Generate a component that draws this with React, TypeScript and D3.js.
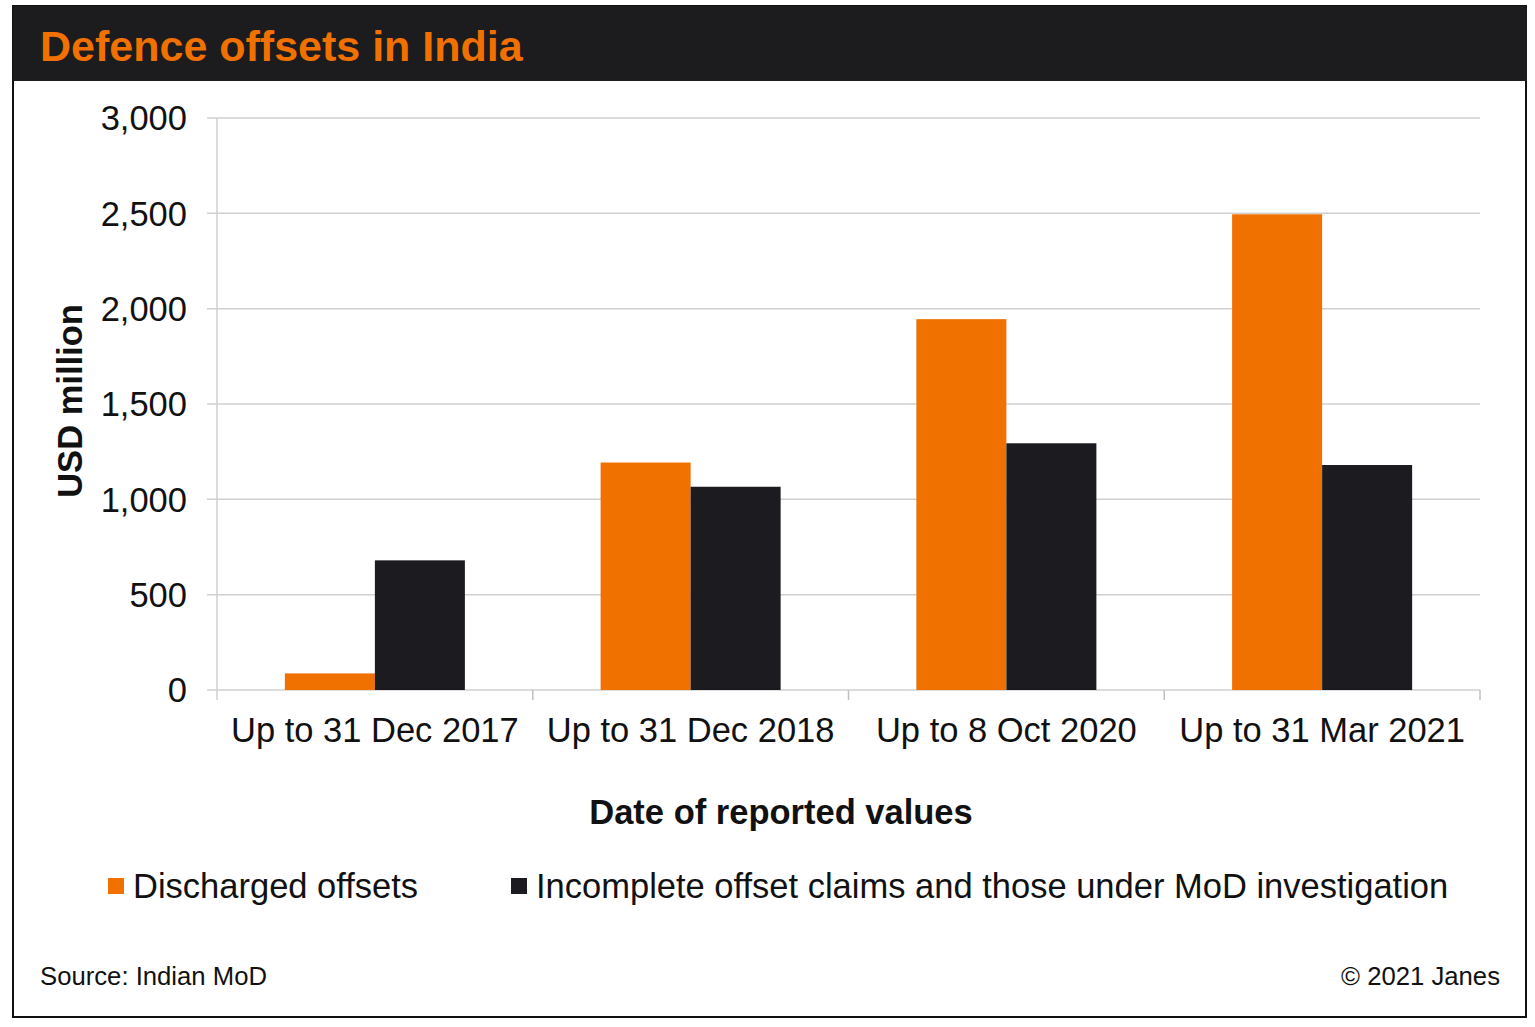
import { useEffect, useRef } from 'react';
import * as d3 from 'd3';

const categories = [
  'Up to 31 Dec 2017',
  'Up to 31 Dec 2018',
  'Up to 8 Oct 2020',
  'Up to 31 Mar 2021',
];
const seriesNames = [
  'Discharged offsets',
  'Incomplete offset claims and those under MoD investigation',
];
const discharged = [87, 1193, 1945, 2495];
const incomplete = [680, 1066, 1294, 1180];
const yTicks = [0, 500, 1000, 1500, 2000, 2500, 3000];

const COLORS = ['#F07000', '#1C1C20'];
const FONT = '"Liberation Sans", Arial, sans-serif';
const FS = 34.5;

export default function App() {
  const svgRef = useRef<SVGSVGElement>(null);
  const width = 1535;
  const height = 1027;

  useEffect(() => {
    if (!svgRef.current) return;
    const svg = d3.select(svgRef.current);
    svg.selectAll('*').remove();

    // Frame and header
    svg.append('rect')
      .attr('x', 0).attr('y', 0).attr('width', width).attr('height', height)
      .attr('fill', '#fff');
    svg.append('rect')
      .attr('x', 13).attr('y', 6).attr('width', 1513).attr('height', 1011)
      .attr('fill', '#fff').attr('stroke', '#111').attr('stroke-width', 2);
    svg.append('rect')
      .attr('x', 13).attr('y', 6).attr('width', 1514).attr('height', 75)
      .attr('fill', '#1C1C1F');
    svg.append('text')
      .attr('x', 40).attr('y', 61)
      .attr('font-family', FONT).attr('font-weight', 'bold')
      .attr('font-size', 43).attr('fill', '#F07000')
      .text('Defence offsets in India');

    const left = 217, right = 1480, top = 118, bottom = 690;

    const x0 = d3.scaleBand<string>().domain(categories).range([left, right]);
    const x1 = d3.scaleBand<string>()
      .domain(seriesNames)
      .range([0, x0.bandwidth()])
      .paddingInner(0)
      .paddingOuter(0.754);
    const y = d3.scaleLinear().domain([0, 3000]).range([bottom, top]);

    // Gridlines + y tick labels
    const g = svg.append('g');
    g.selectAll('.grid')
      .data(yTicks)
      .join('line')
      .attr('x1', left - 10).attr('x2', right)
      .attr('y1', (d) => y(d)).attr('y2', (d) => y(d))
      .attr('stroke', '#D0D0D0').attr('stroke-width', 1.5);
    g.selectAll('.ylab')
      .data(yTicks)
      .join('text')
      .attr('x', 187).attr('y', (d) => y(d))
      .attr('dy', '0.36em')
      .attr('text-anchor', 'end')
      .attr('font-family', FONT).attr('font-size', FS).attr('fill', '#111')
      .text((d) => d3.format(',')(d));

    // Axis lines and category ticks
    g.append('line')
      .attr('x1', left).attr('x2', left).attr('y1', top).attr('y2', bottom + 10)
      .attr('stroke', '#D0D0D0').attr('stroke-width', 1.5);
    const boundaries = categories.map((c) => (x0(c) || 0) + x0.bandwidth());
    g.selectAll('.xtick')
      .data(boundaries)
      .join('line')
      .attr('x1', (d) => d).attr('x2', (d) => d)
      .attr('y1', bottom).attr('y2', bottom + 10)
      .attr('stroke', '#C0C0C0').attr('stroke-width', 1.5);

    // Bars
    const data = categories.map((c, i) => ({
      cat: c,
      values: [discharged[i], incomplete[i]],
    }));
    const groups = svg.append('g')
      .selectAll('g')
      .data(data)
      .join('g')
      .attr('transform', (d) => `translate(${x0(d.cat)},0)`);
    groups.selectAll('rect')
      .data((d) => d.values.map((v, j) => ({ name: seriesNames[j], v, j })))
      .join('rect')
      .attr('x', (d) => x1(d.name) || 0)
      .attr('width', x1.bandwidth())
      .attr('y', (d) => y(d.v))
      .attr('height', (d) => y(0) - y(d.v))
      .attr('fill', (d) => COLORS[d.j]);

    // X labels
    svg.append('g')
      .selectAll('text')
      .data(categories)
      .join('text')
      .attr('x', (d) => (x0(d) || 0) + x0.bandwidth() / 2)
      .attr('y', 742)
      .attr('text-anchor', 'middle')
      .attr('font-family', FONT).attr('font-size', FS).attr('fill', '#111')
      .text((d) => d);

    // Axis titles
    svg.append('text')
      .attr('x', 781).attr('y', 824)
      .attr('text-anchor', 'middle')
      .attr('font-family', FONT).attr('font-weight', 'bold')
      .attr('font-size', FS).attr('fill', '#111')
      .text('Date of reported values');
    svg.append('text')
      .attr('transform', `translate(82,${(top + bottom) / 2 - 3}) rotate(-90)`)
      .attr('text-anchor', 'middle')
      .attr('font-family', FONT).attr('font-weight', 'bold')
      .attr('font-size', FS).attr('fill', '#111')
      .text('USD million');

    // Legend
    const legendX = [108, 511];
    const leg = svg.append('g')
      .selectAll('g')
      .data(seriesNames)
      .join('g')
      .attr('transform', (_d, i) => `translate(${legendX[i]},878)`);
    leg.append('rect')
      .attr('width', 16).attr('height', 16)
      .attr('fill', (_d, i) => COLORS[i]);
    leg.append('text')
      .attr('x', 25).attr('y', 20)
      .attr('font-family', FONT).attr('font-size', FS).attr('fill', '#111')
      .text((d) => d);

    // Footer
    svg.append('text')
      .attr('x', 40).attr('y', 985)
      .attr('font-family', FONT).attr('font-size', 25.7).attr('fill', '#111')
      .text('Source: Indian MoD');
    svg.append('text')
      .attr('x', 1500).attr('y', 985)
      .attr('text-anchor', 'end')
      .attr('font-family', FONT).attr('font-size', 25.7).attr('fill', '#111')
      .text('© 2021 Janes');
  }, []);

  return (
    <svg
      ref={svgRef}
      width={width}
      height={height}
      style={{ position: 'absolute', left: 0, top: 0, display: 'block' }}
    />
  );
}
